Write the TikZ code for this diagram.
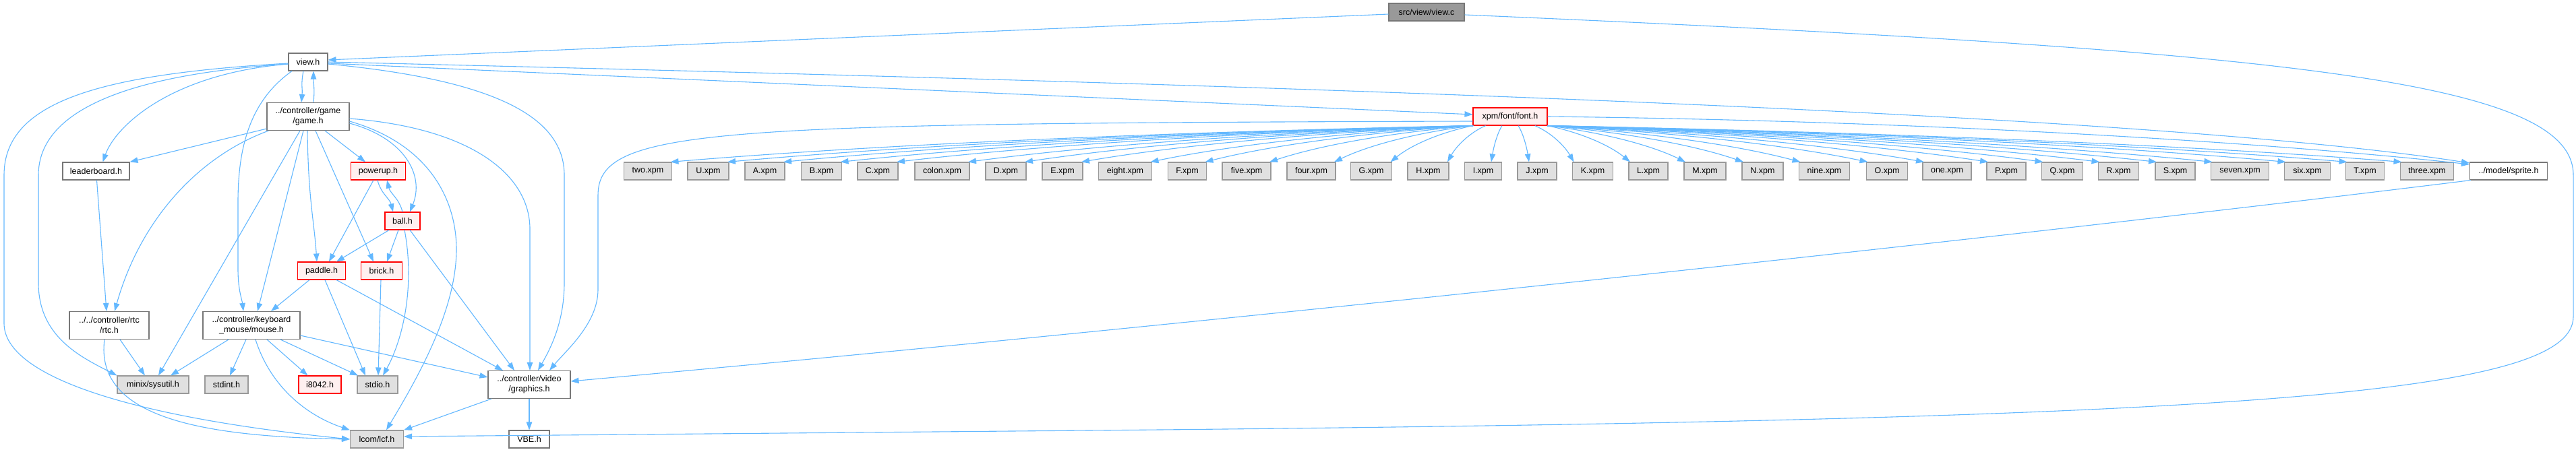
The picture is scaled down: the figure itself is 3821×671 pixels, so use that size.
\documentclass[tikz,border=0pt]{standalone}
\usepackage{fontspec}
\setmainfont{Liberation Sans}
\usetikzlibrary{arrows.meta}
\definecolor{edgec}{HTML}{63B8FF}
\definecolor{wb}{HTML}{777777}
\definecolor{gb}{HTML}{999999}
\definecolor{gf}{HTML}{E0E0E0}
\definecolor{rf}{HTML}{FFF0F0}
\begin{document}
\begin{tikzpicture}[x=1pt,y=-1pt, font=\fontsize{12.5}{15}\selectfont,
 nd/.style={draw, line width=1.1pt, inner sep=0pt, minimum height=26pt, align=center},
 wn/.style={nd, draw=wb, fill=white},
 gn/.style={nd, draw=gb, fill=gf},
 rn/.style={nd, draw=red, fill=rf},
 rootn/.style={nd, draw=wb, fill=gb},
 dbl/.style={minimum height=41pt},
 edge/.style={draw=edgec, line width=1.1pt, -{Triangle[length=12pt,width=8.5pt]}}]
\fill[white] (0,0) rectangle (3821,671);
\useasboundingbox (0,0) rectangle (3821,671);
% nodes
\node[rootn, minimum width=112pt] (viewc) at (2116,18) {src/view/view.c};
\node[wn, minimum width=58pt] (viewh) at (457,92) {view.h};
\node[wn, dbl, minimum width=122pt] (game) at (457,173) {../controller/game\\/game.h};
\node[rn, minimum width=110pt] (font) at (2240,173) {xpm/font/font.h};
\node[wn, minimum width=99pt] (leader) at (142.5,254) {leaderboard.h};
\node[rn, minimum width=81pt] (powerup) at (561,254) {powerup.h};
\node[wn, minimum width=115pt] (sprite) at (3721,254) {../model/sprite.h};
\node[rn, minimum width=52pt] (ball) at (597,328) {ball.h};
\node[rn, minimum width=71pt] (paddle) at (477,402) {paddle.h};
\node[rn, minimum width=61pt] (brick) at (566,402) {brick.h};
\node[wn, dbl, minimum width=118pt] (rtc) at (162,483) {../../controller/rtc\\/rtc.h};
\node[wn, dbl, minimum width=144pt] (mouse) at (373,483) {../controller/keyboard\\\_mouse/mouse.h};
\node[gn, minimum width=106pt] (minix) at (227,571) {minix/sysutil.h};
\node[gn, minimum width=64pt] (stdint) at (336,571) {stdint.h};
\node[rn, minimum width=63pt] (i8042) at (474.5,571) {i8042.h};
\node[gn, minimum width=60pt] (stdio) at (560,571) {stdio.h};
\node[wn, dbl, minimum width=122pt] (graphics) at (785,571) {../controller/video\\/graphics.h};
\node[gn, minimum width=79pt] (lcf) at (559,652) {lcom/lcf.h};
\node[wn, minimum width=60pt] (vbe) at (785,652) {VBE.h};
% xpm nodes and fan edges
\foreach \n/\lab/\x/\w in {two/two.xpm/961/71, U/U.xpm/1050.5/61, A/A.xpm/1134.5/59,
  B/B.xpm/1218.5/60, C/C.xpm/1302/60, colon/colon.xpm/1397.5/81, D/D.xpm/1492/60,
  E/E.xpm/1576/60, eight/eight.xpm/1669/79, F/F.xpm/1761/57, five/five.xpm/1849/72,
  four/four.xpm/1945/72, G/G.xpm/2034/61, H/H.xpm/2118.5/61, I/I.xpm/2200/55,
  J/J.xpm/2280/58, K/K.xpm/2362.5/60, L/L.xpm/2445/58, M/M.xpm/2529/62,
  N/N.xpm/2614.5/61, nine/nine.xpm/2706/75, O/O.xpm/2799/61, one/one.xpm/2888/72,
  P/P.xpm/2976/58, Q/Q.xpm/3059/61, R/R.xpm/3142.5/60, S/S.xpm/3226.5/59,
  seven/seven.xpm/3322.5/86, six/six.xpm/3422.5/68, T/T.xpm/3508/57,
  three/three.xpm/3600/79} {
  \node[gn, minimum width=\w pt] (x\n) at (\x,254) {\lab};
  \pgfmathsetmacro\dd{abs(\x-2240)}
  \pgfmathsetmacro\sg{ifthenelse(\x<2240,-1,1)}
  \pgfmathsetmacro\so{\sg*min(55,0.3*\dd)}
  \pgfmathsetmacro\eo{-\sg*min(\w/2-2,0.3*\dd)}
  \pgfmathsetmacro\dx{abs(2240+\so-\x-\eo)}
  \pgfmathsetmacro\ca{\sg*0.4*\dx}
  \pgfmathsetmacro\cb{-\sg*0.25*\dx}
  \draw[edge] ([xshift=\so pt]font.south) .. controls +(\ca,10) and +(\cb,-25) .. ([xshift=\eo pt]x\n.north);
}
% edges
\draw[edge] ([yshift=-3pt]viewc.west) -- ([yshift=3pt]viewh.east);
\draw[edge] ([yshift=-4pt]viewc.east) .. controls (3400,75) and (3817,120) .. (3817,260) -- (3817,470) .. controls (3817,590) and (3300,625) .. (1500,640) -- ([yshift=4pt]lcf.east);
\draw[edge] ([xshift=-7pt]viewh.south) .. controls +(-4,20) and +(2,-20) .. ([xshift=-10pt]game.north);
\draw[edge] ([xshift=8pt]game.north) .. controls +(2,-20) and +(0,20) .. ([xshift=8pt]viewh.south);
\draw[edge] ([yshift=-3pt]viewh.west) .. controls +(-178,15) and +(18,-51) .. ([xshift=10pt]leader.north);
\draw[edge] ([yshift=-3pt]viewh.west) .. controls (200,110) and (57,160) .. (57,260) -- (57,420) .. controls (57,500) and (120,530) .. (minix.north west);
\draw[edge] ([yshift=-2pt]viewh.west) .. controls (150,110) and (6,150) .. (6,260) -- (6,480) .. controls (6,560) and (200,620) .. (lcf.west);
\draw[edge] ([xshift=-24pt]viewh.south) .. controls (370,150) and (353,220) .. (353,300) -- (353,400) .. controls (353,430) and (359,445) .. ([xshift=-12pt]mouse.north);
\draw[edge] ([yshift=-3pt]viewh.east) .. controls (750,120) and (837,180) .. (837,260) -- (837,420) .. controls (837,480) and (815,520) .. ([xshift=13pt]graphics.north);
\draw[edge] ([yshift=-2pt]viewh.east) -- ([yshift=3pt]font.west);
\draw[edge] (viewh.east) .. controls (2000,128) and (3200,170) .. ([yshift=12pt]sprite.west);
\draw[edge] ([yshift=3pt]game.south west) -- (leader.north east);
\draw[edge] ([xshift=3pt]game.south west) .. controls (300,230) and (210,320) .. ([xshift=8pt]rtc.north);
\draw[edge] ([xshift=-12pt]game.south) -- ([xshift=8pt]minix.north);
\draw[edge] ([xshift=-7pt]game.south) -- ([xshift=9pt]mouse.north);
\draw[edge] ([xshift=-1pt]game.south) .. controls +(1,100) and +(-4,-60) .. ([xshift=-7pt]paddle.north);
\draw[edge] ([xshift=11pt]game.south) -- ([xshift=-12pt]brick.north);
\draw[edge] ([xshift=25pt]game.south) -- ([xshift=-19pt]powerup.north);
\draw[edge] ([yshift=-10pt]game.east) .. controls (600,205) and (630,260) .. ([xshift=11pt]ball.north);
\draw[edge] ([yshift=-7pt]game.east) .. controls (640,215) and (677,300) .. (677,370) .. controls (677,460) and (620,560) .. ([xshift=14pt]lcf.north);
\draw[edge] ([yshift=-3pt]game.east) .. controls (700,190) and (786,260) .. (786,340) -- ([xshift=1pt]graphics.north);
\draw[edge] ([xshift=1pt]leader.south) -- ([xshift=-4pt]rtc.north);
\draw[edge] ([xshift=16pt]rtc.south) -- ([xshift=-12pt]minix.north);
\draw[edge] ([xshift=-7pt]rtc.south) .. controls (140,620) and (300,648) .. (lcf.west);
\draw[edge] ([xshift=-7pt]powerup.south) -- ([xshift=11pt]paddle.north);
\draw[edge] ([xshift=-1pt]powerup.south) .. controls +(5,20) and +(-5,-20) .. ([xshift=-14pt]ball.north);
\draw[edge] (ball.north) .. controls +(-5,-20) and +(5,20) .. ([xshift=13pt]powerup.south);
\draw[edge] ([xshift=-20pt]ball.south) -- ([xshift=22pt]paddle.north);
\draw[edge] ([xshift=-6pt]ball.south) -- ([xshift=8pt]brick.north);
\draw[edge] ([xshift=3pt]ball.south) .. controls +(15,78) and +(32,-58) .. ([xshift=8pt]stdio.north);
\draw[edge] ([xshift=11pt]ball.south) -- ([xshift=-22pt]graphics.north);
\draw[edge] ([xshift=-18pt]paddle.south) -- ([xshift=29pt]mouse.north);
\draw[edge] ([xshift=5pt]paddle.south) -- ([xshift=-18pt]stdio.north);
\draw[edge] ([xshift=22pt]paddle.south) -- ([xshift=-39pt]graphics.north);
\draw[edge] ([xshift=-1pt]brick.south) -- ([xshift=1pt]stdio.north);
\draw[edge] ([xshift=-34pt]mouse.south) -- ([xshift=26pt]minix.north);
\draw[edge] ([xshift=-8pt]mouse.south) -- ([xshift=5pt]stdint.north);
\draw[edge] ([xshift=23pt]mouse.south) -- ([xshift=-18pt]i8042.north);
\draw[edge] ([xshift=43pt]mouse.south) -- ([xshift=-29pt]stdio.north);
\draw[edge] ([yshift=-15pt]mouse.east) -- ([yshift=11pt]graphics.west);
\draw[edge] ([xshift=6pt]mouse.south) .. controls (400,570) and (450,615) .. (lcf.north west);
\draw[edge] ([xshift=-56pt]graphics.south) -- (lcf.north east);
\draw[edge] (graphics.south) -- (vbe.north);
\draw[edge] ([xshift=2pt]sprite.south west) .. controls (3000,350) and (1800,480) .. ([yshift=5pt]graphics.east);
\draw[edge] ([yshift=-7pt]font.west) .. controls (1050,183) and (887,190) .. (887,290) -- (887,430) .. controls (887,480) and (840,520) .. ([xshift=30pt]graphics.north);
\draw[edge] (font.east) .. controls (2900,180) and (3400,215) .. ([yshift=10pt]sprite.west);
\end{tikzpicture}
\end{document}
